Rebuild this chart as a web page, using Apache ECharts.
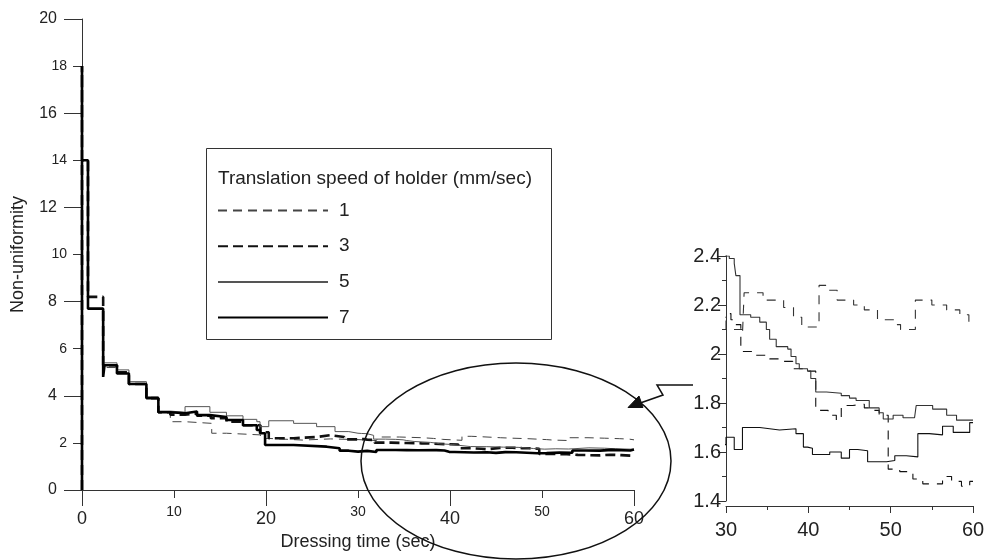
<!DOCTYPE html>
<html><head><meta charset="utf-8">
<script src="https://cdn.jsdelivr.net/npm/echarts@6/dist/echarts.min.js"></script>
<style>html,body{margin:0;padding:0;background:#fff}#c{width:996px;height:560px}</style>
</head><body><div id="c"></div>
<script>
// ---- data ----
const speeds = ['1', '3', '5', '7'];
const legendTitle = 'Translation speed of holder (mm/sec)';
const xName = 'Dressing time (sec)';
const yName = 'Non-uniformity';

const t1 = [0,0,0,0.65,2.3,3.8,5.1,7.0,8.3,9.6,11.2,14.1,15.7,19.4,20.3,24.0,27.0,30.0,32.0,32.2,34.5,37.0,38.2,39.2,41.3,42.3,43.5,45.5,46.8,48.4,50.5,51.2,53.0,55.0,56.8,58.4,59.5,60];
const v1 = [0,18,14,7.7,5.2,4.95,4.5,3.9,3.3,2.9,2.83,2.41,2.34,2.19,2.12,2.17,2.14,2.10,2.08,2.25,2.22,2.19,2.15,2.11,2.28,2.26,2.22,2.20,2.18,2.14,2.12,2.10,2.22,2.20,2.18,2.16,2.13,2.13];

const t3 = [0,0,0,0.65,2.3,3.8,5.1,7.0,8.3,9.6,11.2,12.5,14.0,15.7,17.5,19.4,20.3,23.0,25.5,27.0,28.5,30.0,30.6,31.0,31.8,33.6,35.3,36.9,38.1,39.9,40.9,42.4,43.4,44.0,45.4,46.8,47.8,48.6,49.7,51.1,52.7,53.9,56.3,57.4,58.6,59.6,60];
const v3 = [0,18,14,8.2,5.3,5.0,4.5,3.9,3.3,3.2,3.25,3.15,3.05,2.9,2.75,2.45,2.2,2.25,2.33,2.25,2.15,2.165,2.14,2.12,2.01,1.995,1.98,1.97,1.94,1.93,1.77,1.75,1.73,1.79,1.795,1.78,1.77,1.75,1.53,1.52,1.49,1.47,1.50,1.48,1.46,1.48,1.48];

const t5 = [0,0,0,0.65,2.3,3.8,5.1,7.0,8.3,9.6,11.2,13.9,15.7,17.5,19.0,19.35,20.3,23.0,25.5,27.5,29.0,30.0,30.4,31.0,31.2,31.7,33.0,34.1,34.9,35.3,36.1,37.5,37.9,38.5,38.9,39.9,40.3,40.9,42.2,44.0,45.0,45.8,47.4,48.6,49.1,50.3,51.5,52.9,53.1,55.1,56.8,58.0,60];
const v5 = [0,18,14,7.7,5.4,5.1,4.6,3.95,3.35,3.3,3.54,3.3,3.15,3.0,2.9,2.69,2.94,2.83,2.69,2.48,2.41,2.40,2.39,2.37,2.32,2.16,2.15,2.13,2.10,2.06,2.03,2.02,1.99,1.96,1.94,1.93,1.90,1.845,1.84,1.83,1.82,1.81,1.78,1.76,1.735,1.75,1.74,1.735,1.79,1.775,1.75,1.73,1.73];

const t7 = [0,0,0,0.65,2.3,2.45,3.8,5.1,7.0,8.3,9.6,11.2,12.5,13.9,15.7,17.5,19.0,19.35,19.9,23.0,26.6,28.0,29.0,30.0,31.0,32.0,34.1,35.3,36.5,38.5,39.4,39.9,40.5,42.6,44.0,45.0,46.0,47.2,49.5,50.5,51.9,53.3,54.7,56.3,57.6,59.6,60];
const v7 = [0,18,14,7.7,4.8,5.3,4.95,4.5,3.9,3.3,3.26,3.33,3.18,3.1,2.97,2.75,2.55,2.41,1.91,1.84,1.77,1.67,1.63,1.66,1.61,1.70,1.695,1.69,1.695,1.675,1.62,1.615,1.59,1.60,1.575,1.61,1.605,1.56,1.565,1.585,1.58,1.675,1.67,1.705,1.68,1.72,1.72];

// ---- chart ----
const F = 'Liberation Sans, Arial, sans-serif';
const TXT = '#222';
const AX = '#333';
function pairs(t, v) { return t.map((x, i) => [x, v[i]]); }

const mainStyles = [
  { color: '#444', width: 1, type: [9, 6] },
  { color: '#111', width: 2.6, type: [10, 5] },
  { color: '#555', width: 1, type: 'solid' },
  { color: '#000', width: 2.6, type: 'solid' }
];
const insetStyles = [
  { color: '#333', width: 1.1, type: [9, 8] },
  { color: '#111', width: 1.1, type: [9, 8] },
  { color: '#333', width: 1.1, type: 'solid' },
  { color: '#111', width: 1.1, type: 'solid' }
];
const seriesData = [pairs(t1, v1), pairs(t3, v3), pairs(t5, v5), pairs(t7, v7)];

const series = [];
seriesData.forEach((d, i) => {
  series.push({ name: speeds[i], type: 'line', step: 'end', xAxisIndex: 0, yAxisIndex: 0,
    data: d, symbol: 'none', lineStyle: mainStyles[i], itemStyle: { color: mainStyles[i].color },
    silent: true, animation: false, clip: true, z: 2 + i });
});
seriesData.forEach((d, i) => {
  series.push({ name: 'inset ' + speeds[i], type: 'line', step: 'end', xAxisIndex: 2, yAxisIndex: 2,
    data: d, symbol: 'none', lineStyle: insetStyles[i], itemStyle: { color: insetStyles[i].color },
    silent: true, animation: false, clip: true, z: 2 + i });
});

const chart = echarts.init(document.getElementById('c'), null, { renderer: 'canvas' });
chart.setOption({
  animation: false,
  backgroundColor: '#fff',
  textStyle: { fontFamily: F },
  grid: [
    { left: 82, top: 19, width: 552, height: 471 },
    { left: 726, top: 256, width: 247, height: 245 }
  ],
  xAxis: [
    { gridIndex: 0, type: 'value', position: 'bottom', min: 0, max: 60, interval: 20,
      name: xName, nameLocation: 'middle', nameGap: 43,
      nameTextStyle: { fontSize: 18, color: TXT, fontFamily: F },
      axisLine: { show: true, onZero: false, lineStyle: { color: AX, width: 1 } },
      axisTick: { show: true, length: 16, lineStyle: { color: AX } },
      axisLabel: { fontSize: 18, color: TXT, margin: 20, fontFamily: F },
      splitLine: { show: false } },
    { gridIndex: 0, type: 'value', position: 'bottom', min: 0, max: 60, interval: 10,
      axisLine: { show: false, onZero: false },
      axisTick: { show: true, length: 8, lineStyle: { color: AX } },
      axisLabel: { fontSize: 14, color: TXT, margin: 15, fontFamily: F,
        formatter: v => (v % 20 === 0 ? '' : String(v)) },
      splitLine: { show: false } },
    { gridIndex: 1, type: 'value', position: 'bottom', offset: 5, min: 30, max: 60, interval: 10,
      axisLine: { show: true, onZero: false, lineStyle: { color: AX, width: 1 } },
      axisTick: { show: true, length: 7, lineStyle: { color: AX } },
      axisLabel: { fontSize: 20, color: TXT, margin: 14, fontFamily: F },
      splitLine: { show: false } },
    { gridIndex: 1, type: 'value', position: 'bottom', offset: 5, min: 30, max: 60, interval: 5,
      axisLine: { show: false, onZero: false },
      axisTick: { show: true, length: 4, lineStyle: { color: AX } },
      axisLabel: { show: false },
      splitLine: { show: false } }
  ],
  yAxis: [
    { gridIndex: 0, type: 'value', position: 'left', min: 0, max: 20, interval: 4,
      name: yName, nameLocation: 'middle', nameGap: 55, nameRotate: 90,
      nameTextStyle: { fontSize: 18, color: TXT, fontFamily: F },
      axisLine: { show: true, onZero: false, lineStyle: { color: AX, width: 1 } },
      axisTick: { show: true, length: 18, lineStyle: { color: AX } },
      axisLabel: { fontSize: 16, color: TXT, margin: 25, fontFamily: F },
      splitLine: { show: false } },
    { gridIndex: 0, type: 'value', position: 'left', min: 0, max: 20, interval: 2,
      axisLine: { show: false, onZero: false },
      axisTick: { show: true, length: 9, lineStyle: { color: AX } },
      axisLabel: { fontSize: 14, color: TXT, margin: 15, fontFamily: F,
        formatter: v => (v % 4 === 0 ? '' : String(v)) },
      splitLine: { show: false } },
    { gridIndex: 1, type: 'value', position: 'left', min: 1.4, max: 2.4, interval: 0.2,
      axisLine: { show: true, onZero: false, lineStyle: { color: AX, width: 1 } },
      axisTick: { show: true, length: 8, lineStyle: { color: AX } },
      axisLabel: { fontSize: 20, color: TXT, margin: 5, fontFamily: F },
      splitLine: { show: false } },
    { gridIndex: 1, type: 'value', position: 'left', min: 1.4, max: 2.4, interval: 0.1,
      axisLine: { show: false, onZero: false },
      axisTick: { show: true, length: 4, lineStyle: { color: AX } },
      axisLabel: { show: false },
      splitLine: { show: false } }
  ],
  legend: {
    data: speeds, orient: 'vertical', left: 217, top: 201, padding: 0,
    itemWidth: 110, itemHeight: 14, itemGap: 16.7, selectedMode: false,
    itemStyle: { opacity: 0 },
    textStyle: { fontSize: 19, color: TXT, fontFamily: F, padding: [0, 0, 0, 6] }
  },
  series: series,
  graphic: [
    { type: 'rect', shape: { x: 206.5, y: 148.5, width: 345, height: 191 },
      style: { fill: 'none', stroke: '#333', lineWidth: 1 }, silent: true, z: 10 },
    { type: 'text', x: 218, y: 179, silent: true, z: 11,
      style: { text: legendTitle, fontSize: 19, fontFamily: F, fill: TXT, verticalAlign: 'middle' } },
    { type: 'ellipse', shape: { cx: 516, cy: 461, rx: 155, ry: 98 },
      style: { fill: 'none', stroke: '#111', lineWidth: 1.5 }, silent: true, z: 20 },
    { type: 'polyline', shape: { points: [[693, 385], [657, 385], [663, 395], [636, 404.5]] },
      style: { fill: 'none', stroke: '#111', lineWidth: 1.5 }, silent: true, z: 20 },
    { type: 'polygon', shape: { points: [[628, 407.5], [643, 407.5], [639, 396]] },
      style: { fill: '#111', stroke: '#111', lineWidth: 1 }, silent: true, z: 20 }
  ]
});
</script>
</body></html>
